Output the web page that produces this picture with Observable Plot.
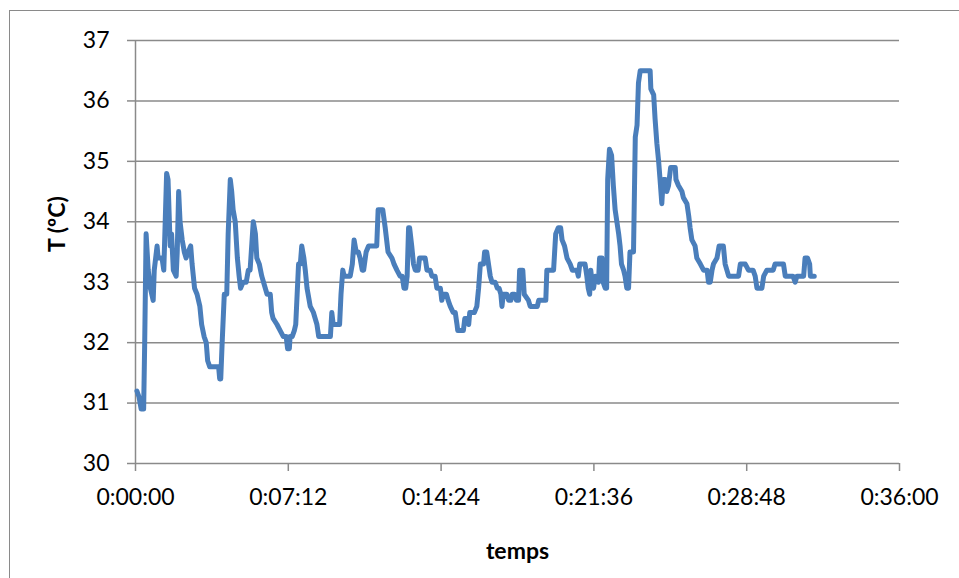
<!DOCTYPE html>
<html>
<head>
<meta charset="utf-8">
<script src="https://cdn.jsdelivr.net/npm/d3@7"></script>
<script src="https://cdn.jsdelivr.net/npm/@observablehq/plot@0.6"></script>
<style>
  html, body { margin: 0; padding: 0; background: #fff; }
  #wrap { position: relative; width: 959px; height: 578px; overflow: hidden; }
  #frame { position: absolute; left: 9px; top: 10px; width: 980px; height: 600px; border: 1.5px solid #8a8a8a; box-sizing: border-box; }
  #chart { position: absolute; left: 0; top: 0; }
</style>
</head>
<body>
<div id="wrap"><div id="frame"></div><div id="chart"></div></div>
<script>
// time in seconds since start
const seconds = [4,10,16,23,26,30,36,42,50,53,61,64,75,80,84,88,92,98,102,107,115,118,122,126,132,138,143,149,156,160,167,174,182,187,194,200,204,210,231,235,238,241,245,251,258,262,268,272,276,282,288,293,297,304,313,319,324,333,339,343,350,357,362,372,381,385,389,400,409,418,426,430,435,437,443,449,453,457,461,466,470,476,480,485,488,494,503,508,513,518,551,555,559,577,581,586,590,607,613,618,624,630,635,641,645,652,659,682,686,699,706,714,725,731,739,748,754,759,764,768,772,775,781,786,791,799,803,813,819,824,833,838,847,852,862,866,870,879,884,890,898,904,909,911,927,931,938,942,945,958,965,970,975,984,987,993,998,1003,1008,1017,1023,1028,1033,1036,1040,1050,1055,1061,1065,1072,1077,1083,1086,1095,1099,1111,1116,1136,1140,1160,1163,1182,1188,1195,1202,1206,1213,1220,1229,1235,1248,1252,1256,1271,1276,1280,1284,1287,1291,1295,1300,1309,1312,1319,1322,1328,1332,1335,1340,1346,1351,1356,1361,1366,1370,1374,1380,1384,1389,1394,1398,1408,1413,1418,1422,1427,1455,1457,1465,1469,1474,1479,1483,1488,1492,1498,1502,1507,1513,1526,1528,1535,1545,1549,1559,1564,1568,1573,1582,1587,1597,1606,1616,1620,1625,1630,1634,1644,1650,1662,1667,1677,1705,1710,1724,1733,1746,1752,1757,1771,1776,1785,1803,1808,1832,1837,1859,1865,1870,1889,1893,1900,1906,1908,1919];
// temperature in ºC
const temps = [31.2,31.1,30.9,30.9,32.0,33.8,33.2,32.9,32.7,33.2,33.6,33.4,33.4,33.2,34.0,34.8,34.7,33.6,33.8,33.2,33.1,33.5,34.5,34.0,33.7,33.5,33.4,33.5,33.6,33.3,32.9,32.8,32.6,32.3,32.1,32.0,31.7,31.6,31.6,31.6,31.4,31.4,32.0,32.8,32.8,33.8,34.7,34.5,34.2,34.0,33.4,33.1,32.9,33.0,33.0,33.2,33.2,34.0,33.8,33.4,33.3,33.1,33.0,32.8,32.8,32.5,32.4,32.3,32.2,32.1,32.1,31.9,31.9,32.1,32.1,32.2,32.3,32.8,33.3,33.3,33.6,33.4,33.2,32.9,32.8,32.6,32.5,32.4,32.3,32.1,32.1,32.5,32.3,32.3,32.8,33.2,33.1,33.1,33.3,33.7,33.5,33.5,33.4,33.2,33.2,33.5,33.6,33.6,34.2,34.2,33.9,33.5,33.4,33.3,33.2,33.1,33.1,32.9,32.9,33.1,33.9,33.9,33.6,33.3,33.2,33.2,33.4,33.4,33.4,33.2,33.2,33.1,33.1,32.9,32.9,32.7,32.8,32.8,32.7,32.6,32.5,32.5,32.3,32.2,32.2,32.4,32.4,32.3,32.5,32.5,32.6,32.9,33.3,33.3,33.5,33.5,33.3,33.1,33.0,33.0,32.9,32.9,32.8,32.6,32.8,32.8,32.7,32.7,32.8,32.8,32.7,32.7,33.2,33.2,32.8,32.7,32.6,32.6,32.7,32.7,33.2,33.2,33.8,33.9,33.9,33.7,33.6,33.4,33.3,33.2,33.2,33.1,33.3,33.3,33.1,32.9,32.8,33.2,33.0,32.9,33.1,33.0,33.4,33.4,33.0,32.9,32.9,34.7,35.2,35.1,34.6,34.2,34.0,33.8,33.6,33.3,33.2,33.1,32.9,32.9,33.5,33.5,35.4,35.6,36.3,36.5,36.5,36.2,36.1,35.7,35.3,35.0,34.7,34.3,34.7,34.7,34.5,34.6,34.9,34.9,34.7,34.6,34.5,34.4,34.3,34.1,33.9,33.7,33.6,33.4,33.3,33.2,33.2,33.0,33.0,33.2,33.3,33.4,33.6,33.6,33.3,33.1,33.1,33.3,33.3,33.2,33.2,33.1,32.9,32.9,33.1,33.2,33.2,33.3,33.3,33.1,33.1,33.0,33.1,33.1,33.4,33.4,33.3,33.1,33.1];
// axis ticks
const xTicks = [0, 432, 864, 1296, 1728, 2160];
const yTicks = [30, 31, 32, 33, 34, 35, 36, 37];

const data = seconds.map((s, i) => ({t: s, T: temps[i]}));
const fmt = s => `${Math.floor(s / 3600)}:${String(Math.floor(s % 3600 / 60)).padStart(2, "0")}:${String(s % 60).padStart(2, "0")}`;
const grey = "#8a8a8a";

const chart = Plot.plot({
  width: 959,
  height: 578,
  marginLeft: 135,
  marginRight: 60,
  marginTop: 40,
  marginBottom: 115,
  style: {fontFamily: "Lato, 'Open Sans', sans-serif", fontSize: "23px", color: "#000", background: "transparent", overflow: "visible"},
  x: {domain: [0, 2160]},
  y: {domain: [30, 37]},
  marks: [
    Plot.gridY(yTicks, {stroke: grey, strokeOpacity: 1, strokeWidth: 1.5}),
    Plot.ruleX([0], {stroke: grey, strokeWidth: 1.5}),
    Plot.axisY(yTicks, {tickSize: 8, tickPadding: 18, stroke: grey, strokeWidth: 1.5, fill: "#000", fontSize: 23,
      tickFormat: d => String(d), label: null}),
    Plot.text(["T (ºC)"], {frameAnchor: "left", dx: -78, rotate: -90, fontSize: 23, fontWeight: "bold", fill: "#000"}),
    Plot.axisX(xTicks, {tickSize: 8, tickPadding: 17, stroke: grey, strokeWidth: 1.5, fill: "#000", fontSize: 23,
      tickFormat: fmt, label: "temps", labelAnchor: "center", labelArrow: "none", labelOffset: 95}),
    Plot.line(data, {x: "t", y: "T", stroke: "#4a7ebb", strokeWidth: 5, strokeLinejoin: "round", strokeLinecap: "round"})
  ]
});
chart.querySelectorAll("[aria-label='x-axis label'] text").forEach(t => t.setAttribute("font-weight", "bold"));
document.getElementById("chart").append(chart);
</script>
</body>
</html>
